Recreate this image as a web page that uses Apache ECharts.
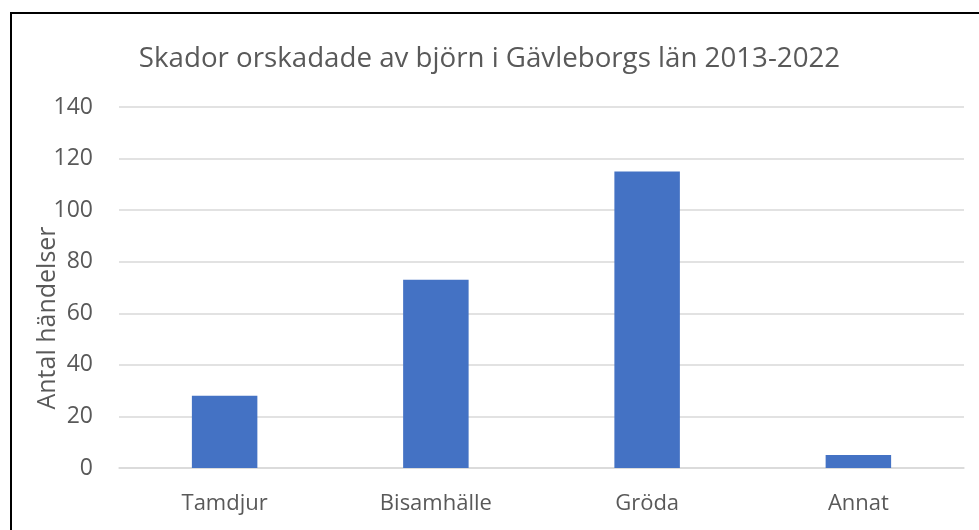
<!DOCTYPE html>
<html><head><meta charset="utf-8">
<script src="https://cdn.jsdelivr.net/npm/echarts@6/dist/echarts.min.js"></script>
<style>html,body{margin:0;padding:0;background:#fff}#c{width:979px;height:530px}</style>
</head><body><div id="c"></div>
<script>
const categories = ["Tamdjur", "Bisamhälle", "Gröda", "Annat"];
const values = [28, 73, 115, 5];
const titleText = "Skador orskadade av björn i Gävleborgs län 2013-2022";
const yAxisName = "Antal händelser";

const font = "Open Sans";
const chart = echarts.init(document.getElementById('c'), null, {renderer: 'canvas'});
chart.setOption({
  animation: false,
  backgroundColor: '#fff',
  title: {
    text: titleText, left: 'center', top: 40,
    textStyle: {fontFamily: font, fontSize: 27.7, fontWeight: 'normal', color: '#595959'}
  },
  grid: {left: 119, right: 15, top: 107, bottom: 62},
  xAxis: {
    type: 'category', data: categories,
    axisLine: {show: true, lineStyle: {color: '#d9d9d9', width: 1.5}},
    axisTick: {show: false},
    axisLabel: {fontFamily: font, fontSize: 22, color: '#595959', margin: 25}
  },
  yAxis: {
    type: 'value', min: 0, max: 140, interval: 20,
    axisLine: {show: false}, axisTick: {show: false},
    splitLine: {lineStyle: {color: '#d9d9d9', width: 1.5}},
    axisLabel: {fontFamily: font, fontSize: 23, color: '#595959', margin: 26}
  },
  series: [{
    type: 'bar', data: values, barWidth: '31%',
    itemStyle: {color: '#4472c4'}
  }],
  graphic: [
    {type: 'line', shape: {x1: 10, y1: 13, x2: 979, y2: 13}, style: {stroke: '#000', lineWidth: 2}},
    {type: 'line', shape: {x1: 11, y1: 12, x2: 11, y2: 530}, style: {stroke: '#000', lineWidth: 2}},
    {type: 'text', x: 48, y: 318, rotation: Math.PI/2, style: {
      text: yAxisName, fontFamily: font, fontSize: 25, fill: '#595959',
      textAlign: 'center', textVerticalAlign: 'middle'}}
  ]
});
</script></body></html>
